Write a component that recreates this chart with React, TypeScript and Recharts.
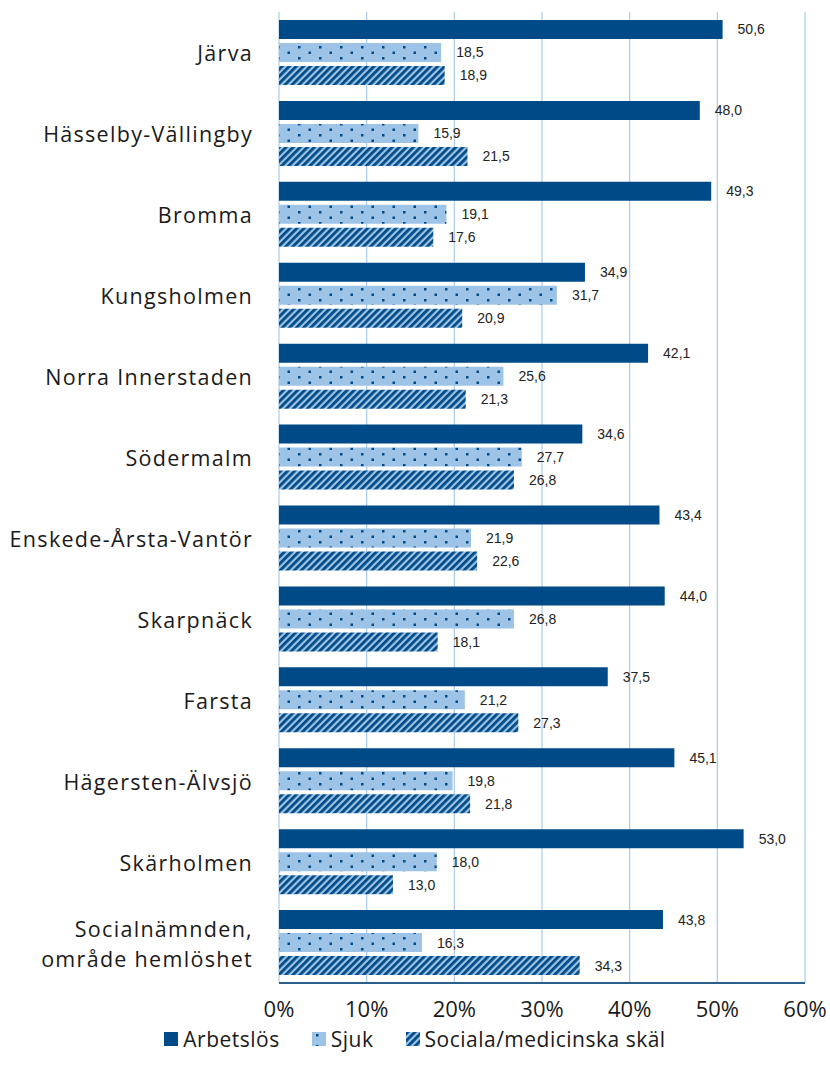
import React from 'react';
import { BarChart, Bar, XAxis, YAxis, CartesianGrid, LabelList } from 'recharts';

const categories = [
  'Järva',
  'Hässelby-Vällingby',
  'Bromma',
  'Kungsholmen',
  'Norra Innerstaden',
  'Södermalm',
  'Enskede-Årsta-Vantör',
  'Skarpnäck',
  'Farsta',
  'Hägersten-Älvsjö',
  'Skärholmen',
  'Socialnämnden,\nområde hemlöshet',
];
const arbetslos = [50.6, 48.0, 49.3, 34.9, 42.1, 34.6, 43.4, 44.0, 37.5, 45.1, 53.0, 43.8];
const sjuk = [18.5, 15.9, 19.1, 31.7, 25.6, 27.7, 21.9, 26.8, 21.2, 19.8, 18.0, 16.3];
const sociala = [18.9, 21.5, 17.6, 20.9, 21.3, 26.8, 22.6, 18.1, 27.3, 21.8, 13.0, 34.3];
const xTicks = [0, 10, 20, 30, 40, 50, 60];

const DARK = '#004B87';
const LIGHT = '#9DC3E6';
const GRID = '#A8CBEA';
const FONT = '"Open Sans", "Noto Sans", sans-serif';

const data = categories.map((name, i) => ({
  name,
  arbetslos: arbetslos[i],
  sjuk: sjuk[i],
  sociala: sociala[i],
}));

const fmt = (v: number) => v.toFixed(1).replace('.', ',');

const Patterns = ({ prefix }: { prefix: string }) => (
  <defs>
    <pattern id={`${prefix}dots`} width="21" height="11" patternUnits="userSpaceOnUse">
      <rect width="21" height="11" fill={LIGHT} />
      <rect x="4" y="2" width="2.5" height="2.5" fill={DARK} />
      <rect x="14.5" y="7.5" width="2.5" height="2.5" fill={DARK} />
    </pattern>
    <pattern
      id={`${prefix}stripes`}
      width="5"
      height="5"
      patternUnits="userSpaceOnUse"
      patternTransform="rotate(45)"
    >
      <rect width="5" height="5" fill={LIGHT} />
      <rect width="2.8" height="5" fill={DARK} />
    </pattern>
  </defs>
);

const CategoryTick = (props: any) => {
  const { x, y, payload } = props;
  const lines = String(payload.value).split('\n');
  const lh = 30;
  const start = -((lines.length - 1) * lh) / 2;
  return (
    <text
      x={x}
      y={y}
      textAnchor="end"
      fill="#1a1a1a"
      fontSize={21.5}
      letterSpacing={1.3}
      fontFamily={FONT}
    >
      {lines.map((l, i) => (
        <tspan key={i} x={x} dy={i === 0 ? start + 9 : lh}>
          {l}
        </tspan>
      ))}
    </text>
  );
};

const legendItems = [
  { label: 'Arbetslös', fill: DARK },
  { label: 'Sjuk', fill: 'url(#lgdots)' },
  { label: 'Sociala/medicinska skäl', fill: 'url(#lgstripes)' },
];

export default function App() {
  return (
    <div style={{ position: 'absolute', left: 0, top: 0, width: 830, height: 1077, background: '#fff' }}>
      <BarChart
        width={830}
        height={1032}
        data={data}
        layout="vertical"
        margin={{ top: 12, right: 25, left: 0, bottom: 0 }}
        barCategoryGap="10%"
        barGap={4}
      >
        <Patterns prefix="" />
        <CartesianGrid horizontal={false} stroke={GRID} strokeWidth={1.2} />
        <XAxis
          type="number"
          domain={[0, 60]}
          ticks={xTicks}
          tickFormatter={(v: number) => `${v}%`}
          axisLine={{ stroke: '#2C5E8E', strokeWidth: 2 }}
          tickLine={false}
          tickMargin={12}
          height={49}
          tick={{ fontSize: 22, fill: '#1a1a1a', fontFamily: FONT }}
        />
        <YAxis
          type="category"
          dataKey="name"
          width={279}
          axisLine={false}
          tickLine={false}
          tickMargin={20}
          interval={0}
          tick={<CategoryTick />}
        />
        <Bar dataKey="arbetslos" fill={DARK} barSize={19} isAnimationActive={false}>
          <LabelList
            dataKey="arbetslos"
            position="right"
            offset={15}
            formatter={(v: any) => fmt(Number(v))}
            style={{ fontSize: 14, fill: '#222', fontFamily: '"Liberation Sans", Arial, sans-serif' }}
          />
        </Bar>
        <Bar dataKey="sjuk" fill="url(#dots)" barSize={19} isAnimationActive={false}>
          <LabelList
            dataKey="sjuk"
            position="right"
            offset={15}
            formatter={(v: any) => fmt(Number(v))}
            style={{ fontSize: 14, fill: '#222', fontFamily: '"Liberation Sans", Arial, sans-serif' }}
          />
        </Bar>
        <Bar dataKey="sociala" fill="url(#stripes)" barSize={19} isAnimationActive={false}>
          <LabelList
            dataKey="sociala"
            position="right"
            offset={15}
            formatter={(v: any) => fmt(Number(v))}
            style={{ fontSize: 14, fill: '#222', fontFamily: '"Liberation Sans", Arial, sans-serif' }}
          />
        </Bar>
      </BarChart>
      <div
        style={{
          position: 'absolute',
          top: 1025,
          left: 0,
          width: 830,
          display: 'flex',
          justifyContent: 'center',
          alignItems: 'center',
          gap: 32,
          fontFamily: FONT,
          fontSize: 21,
          letterSpacing: 0.5,
          color: '#1a1a1a',
        }}
      >
        <svg width={0} height={0} style={{ position: 'absolute' }}>
          <Patterns prefix="lg" />
        </svg>
        {legendItems.map((it) => (
          <div key={it.label} style={{ display: 'flex', alignItems: 'center', gap: 5 }}>
            <svg width={14} height={14}>
              <rect width={14} height={14} fill={it.fill} />
            </svg>
            <span>{it.label}</span>
          </div>
        ))}
      </div>
    </div>
  );
}
